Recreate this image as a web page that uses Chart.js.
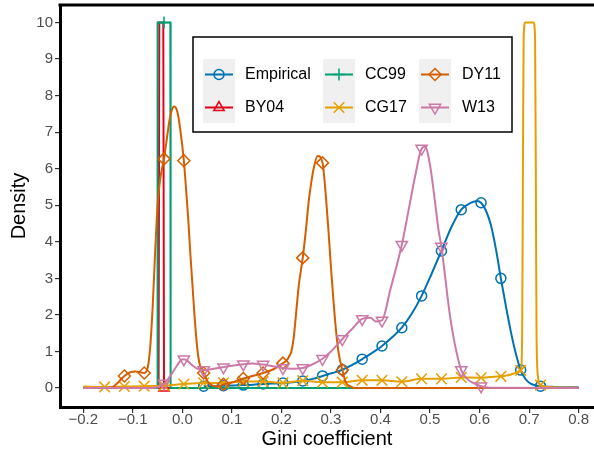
<!DOCTYPE html>
<html>
<head>
<meta charset="utf-8">
<script src="https://cdn.jsdelivr.net/npm/chart.js@4.4.1/dist/chart.umd.min.js"></script>
<style>
    html, body { margin: 0; padding: 0; background: #fff; }
    #wrap { width: 594px; height: 453px; }
</style>
</head>
<body>
<div id="wrap"><canvas id="gini-chart" width="594" height="453"></canvas></div>
<script>
'use strict';

// ==================== DATA ====================

const xTicks = [-0.2, -0.1, 0.0, 0.1, 0.2, 0.3, 0.4, 0.5, 0.6, 0.7, 0.8];
const yTicks = [0, 1, 2, 3, 4, 5, 6, 7, 8, 9, 10];

const seriesNames = ['Empirical', 'BY04', 'CC99', 'CG17', 'DY11', 'W13'];

// Empirical
const empX = [0.043, 0.063, 0.083, 0.103, 0.123, 0.143, 0.163, 0.183, 0.203, 0.223,
              0.243, 0.263, 0.283, 0.303, 0.323, 0.343, 0.363, 0.383, 0.403, 0.423,
              0.443, 0.463, 0.483, 0.503, 0.523, 0.543, 0.563, 0.583, 0.595, 0.603,
              0.613, 0.623, 0.633, 0.643, 0.653, 0.663, 0.673, 0.683, 0.693, 0.703,
              0.713, 0.723, 0.75, 0.8];
const empY = [0.05, 0.05, 0.06, 0.07, 0.08, 0.09, 0.11, 0.12, 0.14, 0.16,
              0.19, 0.25, 0.33, 0.41, 0.50, 0.63, 0.79, 0.96, 1.15, 1.38,
              1.65, 2.03, 2.52, 3.12, 3.75, 4.40, 4.88, 5.07, 5.12, 5.07,
              4.85, 4.45, 3.80, 3.00, 2.25, 1.55, 0.95, 0.49, 0.24, 0.12,
              0.07, 0.05, 0.03, 0.02];
const empMarks = [0.043, 0.083, 0.123, 0.163, 0.203, 0.243, 0.283, 0.323, 0.363,
                  0.403, 0.443, 0.483, 0.523, 0.563, 0.603, 0.643, 0.683, 0.723];

// BY04
const by04X = [-0.2, -0.048, -0.0465, -0.0385, -0.037, 0.8];
const by04Y = [0, 0, 10, 10, 0, 0];
const by04Marks = [-0.037];

// CC99
const cc99X = [-0.2, -0.0505, -0.05, -0.037, -0.0242, -0.0237, 0.8];
const cc99Y = [0, 0, 10, 10, 10, 0, 0];
const cc99Marks = [-0.037];

// CG17
const cg17X = [-0.2, -0.157, -0.117, -0.077, -0.037, 0.003, 0.043, 0.083, 0.123, 0.163,
               0.203, 0.243, 0.283, 0.323, 0.363, 0.403, 0.443, 0.483, 0.523, 0.563,
               0.603, 0.643, 0.683, 0.686, 0.6875, 0.689, 0.692, 0.709, 0.712, 0.7135,
               0.715, 0.718, 0.723, 0.75, 0.8];
const cg17Y = [0.04, 0.03, 0.04, 0.05, 0.06, 0.11, 0.14, 0.14, 0.18, 0.18,
               0.14, 0.20, 0.16, 0.16, 0.21, 0.21, 0.17, 0.25, 0.25, 0.29,
               0.28, 0.32, 0.48, 1.5, 6, 9.6, 10, 10, 9.6, 6,
               1.5, 0.3, 0.08, 0.02, 0.01];
const cg17Marks = [-0.157, -0.117, -0.077, -0.037, 0.003, 0.043, 0.083, 0.123, 0.163,
                   0.203, 0.243, 0.283, 0.323, 0.363, 0.403, 0.443, 0.483, 0.523,
                   0.563, 0.603, 0.643, 0.683, 0.723];

// DY11
const dy11X = [-0.2, -0.15, -0.14, -0.13, -0.117, -0.105, -0.095, -0.085, -0.077, -0.07,
               -0.065, -0.06, -0.055, -0.05, -0.045, -0.037, -0.03, -0.025, -0.02, -0.016,
               -0.01, -0.005, 0.003, 0.008, 0.012, 0.016, 0.02, 0.025, 0.03, 0.035,
               0.043, 0.05, 0.06, 0.07, 0.083, 0.1, 0.123, 0.14, 0.163, 0.185,
               0.203, 0.21, 0.215, 0.22, 0.225, 0.23, 0.235, 0.243, 0.25, 0.255,
               0.26, 0.265, 0.273, 0.283, 0.29, 0.295, 0.3, 0.305, 0.31, 0.315,
               0.323, 0.33, 0.34, 0.35, 0.8];
const dy11Y = [0, 0, 0.03, 0.15, 0.33, 0.43, 0.45, 0.43, 0.41, 0.55,
               1.1, 2.2, 3.7, 5.0, 5.7, 6.27, 6.95, 7.4, 7.65, 7.7,
               7.55, 7.15, 6.22, 5.35, 4.6, 3.7, 2.9, 1.9, 1.1, 0.65,
               0.41, 0.2, 0.07, 0.04, 0.1, 0.15, 0.26, 0.32, 0.41, 0.52,
               0.68, 0.75, 0.85, 1.0, 1.4, 2.1, 2.8, 3.56, 4.4, 5.1,
               5.6, 6.0, 6.35, 6.16, 5.2, 4.3, 3.3, 2.4, 1.6, 1.0,
               0.49, 0.15, 0.04, 0, 0];
const dy11Marks = [-0.117, -0.077, -0.037, 0.003, 0.043, 0.083, 0.123, 0.163,
                   0.203, 0.243, 0.283, 0.323];

// W13
const w13X = [-0.2, -0.06, -0.05, -0.037, -0.03, -0.02, -0.01, -0.003, 0.003, 0.01,
              0.02, 0.03, 0.043, 0.06, 0.083, 0.1, 0.123, 0.14, 0.163, 0.18,
              0.203, 0.22, 0.243, 0.26, 0.283, 0.3, 0.323, 0.343, 0.363, 0.38,
              0.39, 0.403, 0.42, 0.443, 0.46, 0.47, 0.483, 0.49, 0.5, 0.51,
              0.517, 0.523, 0.53, 0.54, 0.55, 0.563, 0.575, 0.587, 0.603, 0.62,
              0.8];
const w13Y = [0, 0, 0.02, 0.12, 0.22, 0.42, 0.63, 0.76, 0.79, 0.75,
              0.62, 0.53, 0.49, 0.52, 0.57, 0.61, 0.65, 0.67, 0.64, 0.6,
              0.55, 0.53, 0.55, 0.63, 0.8, 1.0, 1.34, 1.62, 1.89, 1.92,
              1.82, 1.85, 2.7, 3.92, 5.1, 5.8, 6.55, 6.6, 6.1, 5.1,
              4.33, 3.87, 3.1, 2.0, 1.2, 0.49, 0.25, 0.14, 0.05, 0.01,
              0];
const w13Marks = [-0.037, 0.003, 0.043, 0.083, 0.123, 0.163, 0.203, 0.243, 0.283,
                  0.323, 0.363, 0.403, 0.443, 0.483, 0.523, 0.563, 0.603];

// ==================== STYLE ====================

const FONT = "'Liberation Sans', Arial, Helvetica, sans-serif";

const seriesStyles = [
    { color: '#0072B2', pointStyle: 'circle',   radius: 5,   rotation: 0,   smooth: true },
    { color: '#E3001B', pointStyle: 'triangle', radius: 6,   rotation: 0,   smooth: false },
    { color: '#009E73', pointStyle: 'cross',    radius: 6,   rotation: 0,   smooth: false },
    { color: '#E69F00', pointStyle: 'crossRot', radius: 7.5, rotation: 0,   smooth: true },
    { color: '#D55E00', pointStyle: 'rectRot',  radius: 6,   rotation: 0,   smooth: true },
    { color: '#CC79A7', pointStyle: 'triangle', radius: 6.5, rotation: 180, smooth: true }
];

const seriesData = [
    [empX, empY, empMarks],
    [by04X, by04Y, by04Marks],
    [cc99X, cc99Y, cc99Marks],
    [cg17X, cg17Y, cg17Marks],
    [dy11X, dy11Y, dy11Marks],
    [w13X, w13Y, w13Marks]
];

function toPoints(xs, ys) {
    return xs.map((x, i) => ({ x: x, y: ys[i] }));
}

function markerPoints(xs, ys, marks) {
    return marks.map(m => {
        const i = xs.findIndex(x => Math.abs(x - m) < 1e-9);
        return { x: m, y: ys[i] };
    });
}

function fmtTick(v) {
    return v.toFixed(1).replace('-', '\u2212');
}

// ==================== DATASETS ====================

const datasets = [];
seriesData.forEach(([xs, ys, marks], i) => {
    const st = seriesStyles[i];
    datasets.push({
        label: seriesNames[i],
        data: toPoints(xs, ys),
        borderColor: st.color,
        borderWidth: 2,
        pointRadius: 0,
        fill: false,
        tension: 0,
        cubicInterpolationMode: st.smooth ? 'monotone' : 'default',
        order: 20 - 2 * i
    });
    datasets.push({
        label: seriesNames[i] + ' markers',
        data: markerPoints(xs, ys, marks),
        showLine: false,
        pointStyle: st.pointStyle,
        pointRadius: st.radius,
        pointRotation: st.rotation,
        pointBorderWidth: 1.5,
        pointBorderColor: st.color,
        pointBackgroundColor: 'rgba(0,0,0,0)',
        order: 19 - 2 * i
    });
});

// ==================== PLUGINS ====================

const framePlugin = {
    id: 'topFrame',
    afterDraw(chart) {
        const { ctx, chartArea } = chart;
        ctx.save();
        ctx.strokeStyle = '#000';
        ctx.lineWidth = 3;
        ctx.beginPath();
        ctx.moveTo(chartArea.left - 1.5, chartArea.top);
        ctx.lineTo(chartArea.right, chartArea.top);
        ctx.stroke();
        ctx.restore();
    }
};

const legendPlugin = {
    id: 'boxLegend',
    afterDraw(chart) {
        const ctx = chart.ctx;
        const keyX = [203, 323, 419];
        const textX = [245, 365, 462];
        const rowY = [74.5, 107.5];

        ctx.save();
        ctx.fillStyle = '#fff';
        ctx.fillRect(193, 37, 319, 95);
        ctx.strokeStyle = '#000';
        ctx.lineWidth = 1.5;
        ctx.strokeRect(193, 37, 319, 95);

        ctx.fillStyle = '#f0f0f0';
        keyX.forEach(x => ctx.fillRect(x, 59, 32, 64));

        seriesNames.forEach((name, i) => {
            const st = seriesStyles[i];
            const col = Math.floor(i / 2);
            const cy = rowY[i % 2];
            const cx = keyX[col] + 16;

            ctx.strokeStyle = st.color;
            ctx.lineWidth = 2;
            ctx.beginPath();
            ctx.moveTo(keyX[col] + 2, cy);
            ctx.lineTo(keyX[col] + 30, cy);
            ctx.stroke();

            if (Chart.helpers && Chart.helpers.drawPoint) {
                ctx.fillStyle = 'rgba(0,0,0,0)';
                ctx.lineWidth = 1.5;
                Chart.helpers.drawPoint(ctx, {
                    pointStyle: st.pointStyle,
                    rotation: st.rotation,
                    radius: st.radius,
                    borderWidth: 1.5
                }, cx, cy);
            }

            ctx.fillStyle = '#000';
            ctx.font = '16px ' + FONT;
            ctx.textAlign = 'left';
            ctx.textBaseline = 'middle';
            ctx.fillText(name, textX[col], cy);
        });
        ctx.restore();
    }
};

// ==================== CHART ====================

const ctx = document.getElementById('gini-chart').getContext('2d');

new Chart(ctx, {
    type: 'line',
    data: { datasets: datasets },
    options: {
        responsive: false,
        animation: false,
        events: [],
        layout: {
            autoPadding: false,
            padding: { top: 5, right: 0, bottom: 0, left: 0 }
        },
        scales: {
            x: {
                type: 'linear',
                min: -0.247,
                max: 0.831,
                afterBuildTicks: scale => { scale.ticks = xTicks.map(v => ({ value: v })); },
                afterFit: scale => {
                    scale.height = 46;
                    scale.paddingLeft = 0;
                    scale.paddingRight = 0;
                },
                ticks: {
                    autoSkip: false,
                    maxRotation: 0,
                    color: '#4d4d4d',
                    padding: -1,
                    font: { family: FONT, size: 15, lineHeight: 1 },
                    callback: v => fmtTick(v)
                },
                grid: {
                    drawOnChartArea: false,
                    drawTicks: true,
                    tickLength: 6,
                    color: '#333',
                    lineWidth: 1.2
                },
                border: { display: true, color: '#000', width: 3 },
                title: {
                    display: true,
                    text: 'Gini coefficient',
                    color: '#000',
                    font: { family: FONT, size: 20 },
                    padding: { top: 0, bottom: 2 }
                }
            },
            y: {
                type: 'linear',
                min: -0.52,
                max: 10.48,
                afterBuildTicks: scale => { scale.ticks = yTicks.map(v => ({ value: v })); },
                afterFit: scale => {
                    scale.width = 60;
                    scale.paddingTop = 0;
                    scale.paddingBottom = 0;
                },
                ticks: {
                    autoSkip: false,
                    color: '#4d4d4d',
                    padding: 2,
                    font: { family: FONT, size: 15 },
                    callback: v => String(v)
                },
                grid: {
                    drawOnChartArea: false,
                    drawTicks: true,
                    tickLength: 5,
                    color: '#333',
                    lineWidth: 1.2
                },
                border: { display: true, color: '#000', width: 3 },
                title: {
                    display: true,
                    text: 'Density',
                    color: '#000',
                    font: { family: FONT, size: 20 },
                    padding: { top: 7, bottom: 0 }
                }
            }
        },
        plugins: {
            legend: { display: false },
            tooltip: { enabled: false }
        }
    },
    plugins: [framePlugin, legendPlugin]
});
</script>
</body>
</html>
